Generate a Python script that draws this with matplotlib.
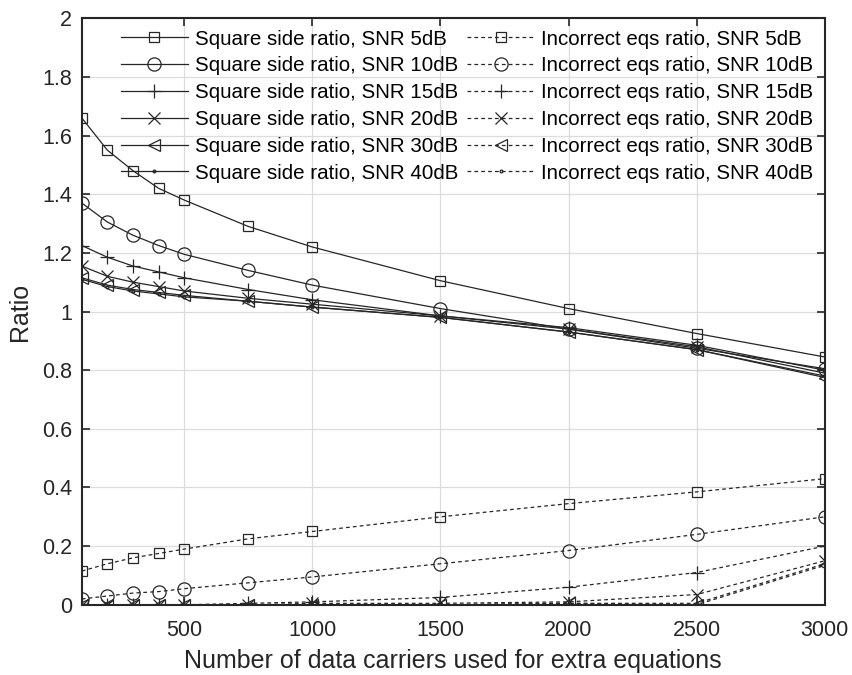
import matplotlib
matplotlib.use("Agg")
import matplotlib.pyplot as plt

x = [100, 200, 300, 400, 500, 750, 1000, 1500, 2000, 2500, 3000]
snr_labels = ["5dB", "10dB", "15dB", "20dB", "30dB", "40dB"]
markers = ["s", "o", "+", "x", "<", "."]
marker_sizes = [7.5, 9.5, 10, 8, 9, 4]

square_ratio = [
    [1.66, 1.55, 1.48, 1.42, 1.38, 1.29, 1.22, 1.105, 1.01, 0.925, 0.845],
    [1.37, 1.305, 1.26, 1.225, 1.195, 1.14, 1.09, 1.01, 0.94, 0.875, 0.805],
    [1.225, 1.185, 1.155, 1.135, 1.115, 1.075, 1.04, 0.985, 0.945, 0.885, 0.80],
    [1.155, 1.12, 1.10, 1.085, 1.07, 1.045, 1.025, 0.985, 0.94, 0.88, 0.79],
    [1.115, 1.09, 1.075, 1.065, 1.055, 1.035, 1.015, 0.98, 0.93, 0.87, 0.775],
    [1.11, 1.085, 1.07, 1.06, 1.05, 1.035, 1.015, 0.98, 0.93, 0.87, 0.78],
]
incorrect_ratio = [
    [0.115, 0.14, 0.16, 0.175, 0.19, 0.225, 0.25, 0.30, 0.345, 0.385, 0.43],
    [0.02, 0.03, 0.04, 0.045, 0.055, 0.075, 0.095, 0.14, 0.185, 0.24, 0.30],
    [0.0, 0.0, 0.0, 0.0, 0.0, 0.005, 0.01, 0.025, 0.06, 0.11, 0.20],
    [0.0, 0.0, 0.0, 0.0, 0.0, 0.0, 0.005, 0.005, 0.01, 0.035, 0.15],
    [0.0, 0.0, 0.0, 0.0, 0.0, 0.0, 0.0, 0.0, 0.005, 0.0, 0.135],
    [0.0, 0.0, 0.0, 0.0, 0.0, 0.0, 0.0, 0.0, 0.005, 0.005, 0.14],
]

plt.rcParams['font.family'] = ['Liberation Sans', 'DejaVu Sans']
fig = plt.figure(figsize=(8.52, 6.75), dpi=100)
ax = fig.add_axes([0.096, 0.104, 0.872, 0.869])

col = "#262626"
handles_sq = []
handles_inc = []
for i, lab in enumerate(snr_labels):
    h, = ax.plot(x, square_ratio[i], linestyle='-', marker=markers[i], color=col,
                 markerfacecolor='none', markersize=marker_sizes[i], linewidth=0.9,
                 markeredgewidth=0.9, label=f"Square side ratio, SNR {lab}")
    handles_sq.append(h)
for i, lab in enumerate(snr_labels):
    h, = ax.plot(x, incorrect_ratio[i], linestyle=(0, (3, 2.5)), marker=markers[i], color=col,
                 markerfacecolor='none', markersize=marker_sizes[i], linewidth=0.9,
                 markeredgewidth=0.9, label=f"Incorrect eqs ratio, SNR {lab}")
    handles_inc.append(h)

ax.set_xlim(100, 3000)
ax.set_ylim(0, 2)
ax.set_xticks([500, 1000, 1500, 2000, 2500, 3000])
ax.set_yticks([0, 0.2, 0.4, 0.6, 0.8, 1.0, 1.2, 1.4, 1.6, 1.8, 2.0])
ax.set_yticklabels(["0", "0.2", "0.4", "0.6", "0.8", "1", "1.2", "1.4", "1.6", "1.8", "2"])
ax.grid(True, color="#dcdcdc", linewidth=0.9)
ax.set_axisbelow(True)
ax.tick_params(direction='in', length=6, width=1.2, labelsize=15.5, colors="#262626",
               top=True, right=True)
ax.tick_params(axis='x', pad=11)
ax.tick_params(axis='y', pad=7)
for s in ax.spines.values():
    s.set_linewidth(1.5)
    s.set_color("#262626")
ax.set_xlabel("Number of data carriers used for extra equations", fontsize=18,
              color="#262626", labelpad=6)
ax.set_ylabel("Ratio", fontsize=18, color="#262626", labelpad=7)

leg = ax.legend(handles_sq + handles_inc, [h.get_label() for h in handles_sq + handles_inc],
                ncol=2, loc='upper right', bbox_to_anchor=(1.0, 1.0), fontsize=14.8,
                frameon=False, handlelength=3.3, columnspacing=0.45,
                handletextpad=0.3, borderaxespad=0.0, labelspacing=0.38, borderpad=0.55)

fig.savefig("out.png", dpi=100)
